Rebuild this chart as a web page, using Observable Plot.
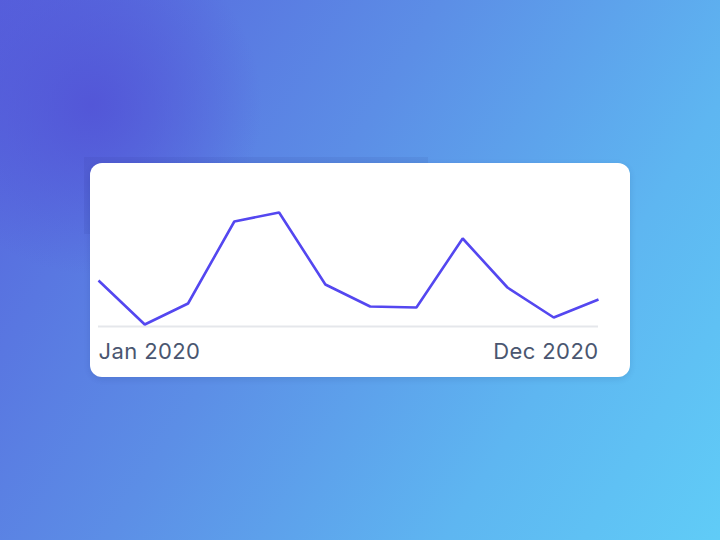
<!DOCTYPE html>
<html>
<head>
<meta charset="utf-8">
<script src="https://cdn.jsdelivr.net/npm/d3@7"></script>
<script src="https://cdn.jsdelivr.net/npm/@observablehq/plot@0.6"></script>
<style>
  html, body { margin: 0; padding: 0; }
  body {
    width: 720px; height: 540px; position: relative; overflow: hidden;
    background:
      radial-gradient(circle at 92px 105px, rgba(82,82,214,0.85) 0px, rgba(82,82,214,0) 170px),
      linear-gradient(122deg, #5660dc 0%, #5c8ee6 42%, #5eb6f1 74%, #60ccf7 100%);
    font-family: Inter, "Noto Sans", sans-serif;
  }
  #shade {
    position: absolute; left: 84px; top: 157px; width: 344px; height: 77px;
    background: rgba(30, 30, 110, 0.07);
  }
  #card {
    position: absolute; left: 90px; top: 163px; width: 540px; height: 214px;
    background: #fff; border-radius: 12px; overflow: hidden;
    box-shadow: 0 2px 6px rgba(20, 30, 90, 0.12);
  }
  #card svg { display: block; }
</style>
</head>
<body>
<div id="shade"></div>
<div id="card"></div>
<script>
const months = ["2020-01","2020-02","2020-03","2020-04","2020-05","2020-06","2020-07","2020-08","2020-09","2020-10","2020-11","2020-12"];
const values = [46, 2, 23, 105, 114, 42, 20, 19, 88, 39, 9, 27];
const tickLabels = ["Jan 2020", "Dec 2020"];

const data = months.map((m, i) => ({date: new Date(m + "-01T00:00:00Z"), value: values[i]}));
const first = data[0], last = data[data.length - 1];

const chart = Plot.plot({
  width: 540,
  height: 214,
  marginLeft: 8,
  marginRight: 32,
  marginTop: 49,
  marginBottom: 51,
  style: {fontFamily: "Inter, 'Noto Sans', sans-serif", background: "transparent", overflow: "visible", letterSpacing: "0.4px"},
  x: {type: "utc", domain: [first.date, last.date], axis: null},
  y: {domain: [0, d3.max(values)], axis: null},
  marks: [
    Plot.ruleY([0], {stroke: "#e5e7eb", strokeWidth: 2}),
    Plot.line(data, {x: "date", y: "value", stroke: "#5447f0", strokeWidth: 2.6, strokeLinejoin: "miter", strokeLinecap: "butt"}),
    Plot.text([first], {x: "date", y: 0, text: () => tickLabels[0], textAnchor: "start", lineAnchor: "bottom", dy: 32.5, fontSize: 22, fill: "#4a5670"}),
    Plot.text([last], {x: "date", y: 0, text: () => tickLabels[1], textAnchor: "end", lineAnchor: "bottom", dy: 32.5, fontSize: 22, fill: "#4a5670"})
  ]
});
document.getElementById("card").appendChild(chart);
</script>
</body>
</html>
